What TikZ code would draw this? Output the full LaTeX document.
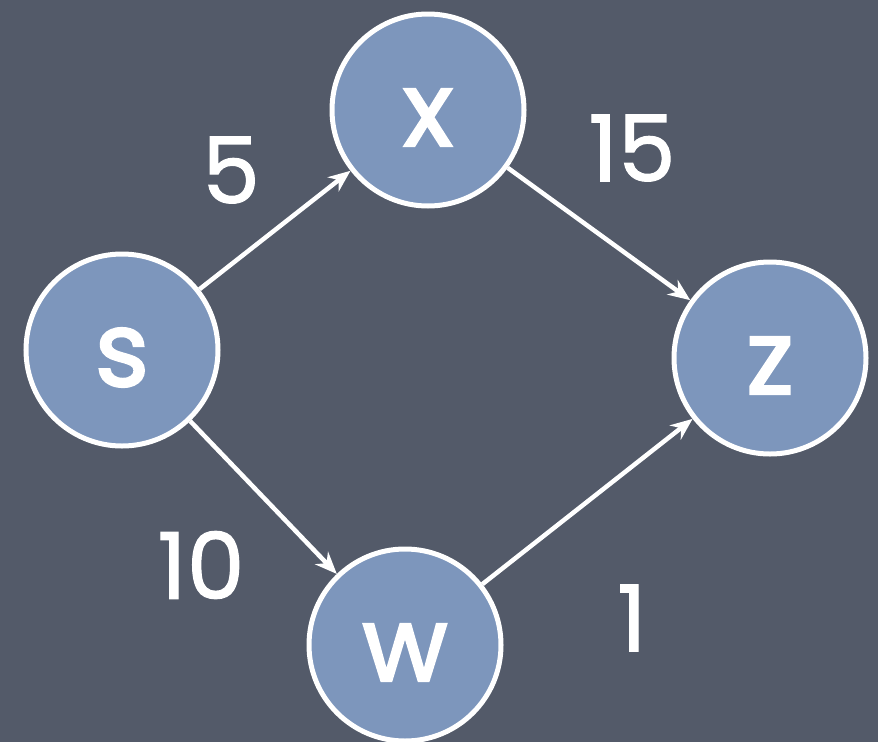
\documentclass[tikz,border=0pt]{standalone}
\usepackage{fontspec}
\setmainfont{Poppins}
\newfontfamily\heavyish{Poppins}[FakeBold=2.2]
\newfontfamily\medish{Poppins}[FakeBold=1.2]
\usetikzlibrary{arrows.meta}
\definecolor{bgslate}{HTML}{535A69}
\definecolor{nodeblue}{HTML}{7D96BC}
\newcommand{\lowletter}[1]{\raisebox{-36pt}[0pt][0pt]{#1}}
\tikzset{
  vert/.style={circle, draw=white, line width=5pt, fill=nodeblue, minimum size=192pt, inner sep=0pt, text=white, font=\heavyish\fontsize{104}{104}\selectfont},
  edge/.style={draw=white, line width=4.5pt, -{Stealth[length=22pt,width=18pt]}},
  wlabel/.style={text=white, font=\medish\fontsize{92}{92}\selectfont, inner sep=0pt}
}
\begin{document}
\begin{tikzpicture}[x=1pt,y=-1pt]
\fill[bgslate] (0,0) rectangle (878,742);
\useasboundingbox (0,0) rectangle (878,742);
\node[vert] (x) at (428,110) {\lowletter{x}};
\node[vert] (s) at (122,350) {\lowletter{s}};
\node[vert] (z) at (770,358) {\lowletter{z}};
\node[vert] (w) at (405,645) {\lowletter{w}};
\draw[edge] (s) -- (x);
\draw[edge] (x) -- (z);
\draw[edge] (s) -- (w);
\draw[edge] (w) -- (z);
\node[wlabel] (l5) at (231,170) {5};
\node[wlabel] (l15) at (632,148) {15};
\node[wlabel] (l10) at (201,565) {10};
\node[wlabel] (l1) at (632,618) {1};
\end{tikzpicture}
\end{document}
